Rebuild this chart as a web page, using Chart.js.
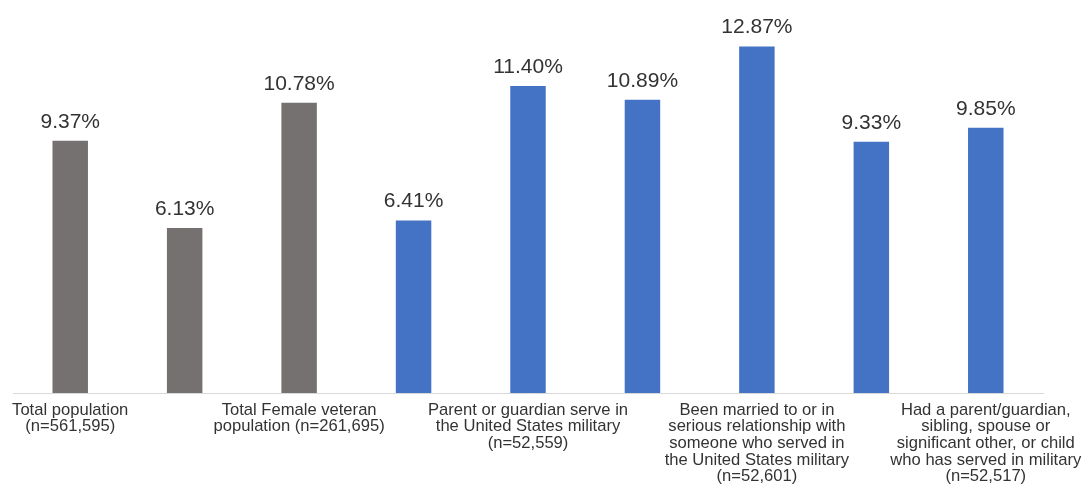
<!DOCTYPE html>
<html lang="en">
<head>
    <meta charset="UTF-8">
    <title>Military connection rates</title>
    <script src="https://cdn.jsdelivr.net/npm/chart.js"></script>
    <style>
        html, body {
            margin: 0;
            padding: 0;
            background: #ffffff;
        }
        #wrap {
            width: 1086px;
            height: 486px;
        }
    </style>
</head>
<body>
    <div id="wrap"><canvas id="barChart"></canvas></div>

    <script>
        // Category labels (only every other bar carries a label in the original)
        const categories = [
            ['Total population', '(n=561,595)'],
            '',
            ['Total Female veteran', 'population (n=261,695)'],
            '',
            ['Parent or guardian serve in', 'the United States military', '(n=52,559)'],
            '',
            ['Been married to or in', 'serious relationship with', 'someone who served in', 'the United States military', '(n=52,601)'],
            '',
            ['Had a parent/guardian,', 'sibling, spouse or', 'significant other, or child', 'who has served in military', '(n=52,517)']
        ];
        const percentages = [9.37, 6.13, 10.78, 6.41, 11.40, 10.89, 12.87, 9.33, 9.85];
        const barColors = ['#767171', '#767171', '#767171', '#4472c4', '#4472c4', '#4472c4', '#4472c4', '#4472c4', '#4472c4'];

        // Draws the percentage text above each bar
        const valueLabels = {
            id: 'valueLabels',
            afterDatasetsDraw(chart) {
                const ctx = chart.ctx;
                const meta = chart.getDatasetMeta(0);
                ctx.save();
                ctx.font = '21px "Liberation Sans", Arial, sans-serif';
                ctx.fillStyle = '#333333';
                ctx.textAlign = 'center';
                ctx.textBaseline = 'alphabetic';
                meta.data.forEach((bar, i) => {
                    ctx.fillText(percentages[i].toFixed(2) + '%', bar.x, bar.y - 13);
                });
                ctx.restore();
            }
        };

        const ctx = document.getElementById('barChart').getContext('2d');
        const chart = new Chart(ctx, {
            type: 'bar',
            data: {
                labels: categories,
                datasets: [{
                    data: percentages,
                    backgroundColor: barColors,
                    borderWidth: 0,
                    barPercentage: 0.31,
                    categoryPercentage: 1
                }]
            },
            options: {
                responsive: true,
                maintainAspectRatio: false,
                animation: false,
                layout: {
                    padding: { left: 13, right: 43, top: 16, bottom: 0 }
                },
                plugins: {
                    legend: { display: false },
                    tooltip: { enabled: false }
                },
                scales: {
                    x: {
                        grid: { display: false, drawTicks: false },
                        border: { display: true, color: '#d9d9d9', width: 1 },
                        ticks: {
                            autoSkip: false,
                            maxRotation: 0,
                            minRotation: 0,
                            padding: 9,
                            color: '#333333',
                            font: { family: '"Liberation Sans", Arial, sans-serif', size: 16.6, lineHeight: 1.0 }
                        },
                        afterFit: (scale) => {
                            // fixed axis height, and let the wide labels overhang the plot edges
                            scale.height = 93;
                            scale.paddingLeft = 0;
                            scale.paddingRight = 0;
                        }
                    },
                    y: {
                        display: false,
                        min: 0,
                        max: 14
                    }
                }
            },
            plugins: [valueLabels]
        });
    </script>
</body>
</html>
